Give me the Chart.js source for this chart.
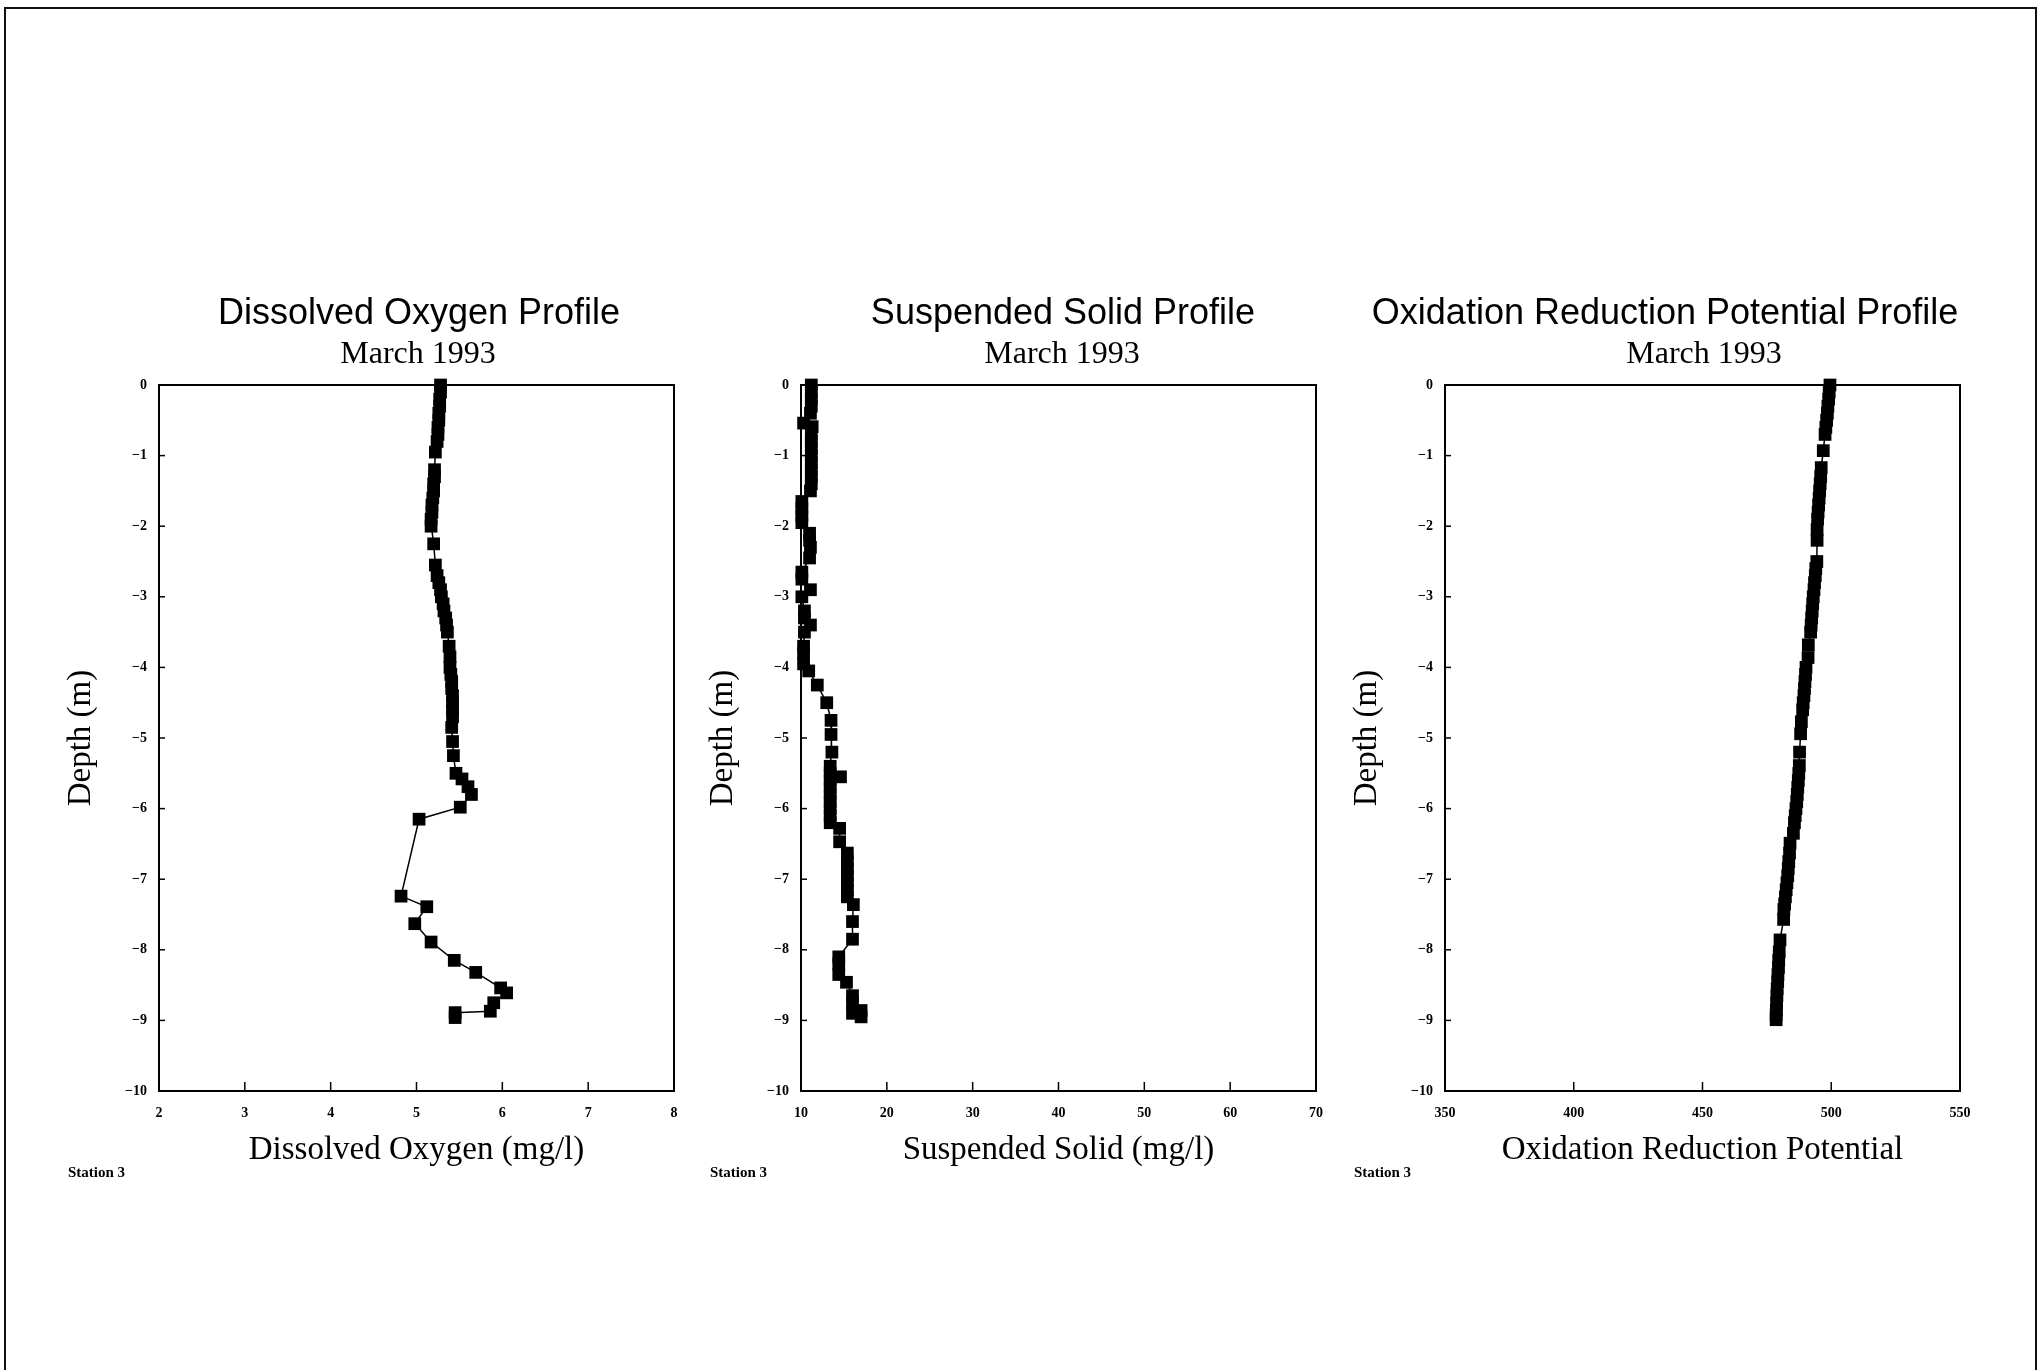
<!DOCTYPE html>
<html>
<head>
<meta charset="utf-8">
<title>Station 3 profiles - March 1993</title>
<script src="https://cdn.jsdelivr.net/npm/chart.js@4.4.1/dist/chart.umd.min.js"></script>
<style>
  html, body { margin: 0; padding: 0; background: #fff; }
  body { width: 2041px; height: 1372px; position: relative; overflow: hidden; }
  .frame { position: absolute; left: 4px; top: 7px; width: 2033px; height: 1363px; border: 2px solid #111; border-bottom: none; box-sizing: border-box; }
  .panel { position: absolute; top: 280px; width: 680px; height: 920px; }
</style>
</head>
<body>
<div class="frame"></div>
<div class="panel" style="left:40px"><canvas id="chartDO"></canvas></div>
<div class="panel" style="left:682px"><canvas id="chartSS"></canvas></div>
<div class="panel" style="left:1326px"><canvas id="chartORP"></canvas></div>

<script>
// depth (m) and readings
const doDepth = [0, -0.1, -0.2, -0.3, -0.4, -0.5, -0.6, -0.7, -0.8, -0.95,
    -1.2, -1.3, -1.4, -1.5, -1.6, -1.7, -1.8, -1.9, -2.0, -2.25,
    -2.55, -2.7, -2.8, -2.9, -3.0, -3.1, -3.2, -3.3, -3.4, -3.5,
    -3.7, -3.85, -4.0, -4.1, -4.2, -4.3, -4.4, -4.5, -4.6, -4.7,
    -4.85, -5.05, -5.25, -5.5, -5.58, -5.69, -5.8, -5.98, -6.15, -7.24,
    -7.39, -7.63, -7.89, -8.15, -8.32, -8.54, -8.61, -8.75, -8.87, -8.89,
    -8.96];
const doValues = [5.28, 5.28, 5.27, 5.27, 5.26, 5.26, 5.25, 5.25, 5.24, 5.22,
    5.21, 5.21, 5.2, 5.2, 5.19, 5.18, 5.18, 5.17, 5.17, 5.2,
    5.22, 5.24, 5.26, 5.28, 5.29, 5.31, 5.32, 5.34, 5.35, 5.36,
    5.38, 5.39, 5.39, 5.4, 5.41, 5.41, 5.42, 5.42, 5.42, 5.42,
    5.41, 5.42, 5.43, 5.46, 5.53, 5.6, 5.64, 5.51, 5.03, 4.82,
    5.12, 4.98, 5.17, 5.44, 5.69, 5.98, 6.05, 5.9, 5.86, 5.45,
    5.45];

const ssDepth = [0, -0.1, -0.2, -0.3, -0.4, -0.54, -0.59, -0.7, -0.8, -0.9,
    -1.0, -1.1, -1.2, -1.3, -1.4, -1.5, -1.65, -1.75, -1.85, -1.95,
    -2.1, -2.2, -2.3, -2.45, -2.65, -2.75, -2.9, -3.0, -3.2, -3.3,
    -3.4, -3.5, -3.7, -3.8, -3.95, -4.05, -4.25, -4.5, -4.75, -4.95,
    -5.2, -5.4, -5.5, -5.55, -5.6, -5.7, -5.8, -5.9, -6.0, -6.1,
    -6.2, -6.28, -6.47, -6.63, -6.75, -6.85, -6.95, -7.05, -7.15, -7.25,
    -7.36, -7.6, -7.85, -8.1, -8.2, -8.35, -8.46, -8.65, -8.75, -8.86,
    -8.9, -8.95];
const ssValues = [11.2, 11.2, 11.2, 11.2, 11.1, 10.3, 11.3, 11.2, 11.2, 11.2,
    11.2, 11.2, 11.2, 11.2, 11.2, 11.1, 10.1, 10.1, 10.1, 10.1,
    11.0, 11.0, 11.1, 11.0, 10.1, 10.1, 11.1, 10.1, 10.4, 10.4,
    11.1, 10.4, 10.3, 10.3, 10.3, 10.9, 11.9, 13.0, 13.5, 13.5,
    13.6, 13.4, 13.4, 14.6, 13.4, 13.4, 13.4, 13.4, 13.4, 13.4,
    13.4, 14.5, 14.5, 15.4, 15.4, 15.4, 15.4, 15.4, 15.4, 15.4,
    16.1, 16.0, 16.0, 14.4, 14.4, 14.4, 15.3, 16.0, 16.0, 17.0,
    16.0, 17.0];

const orpDepth = [0, -0.1, -0.2, -0.3, -0.4, -0.5, -0.6, -0.7, -0.93, -1.17,
    -1.3, -1.4, -1.5, -1.6, -1.7, -1.8, -1.9, -2.05, -2.2, -2.5,
    -2.6, -2.7, -2.8, -2.9, -3.0, -3.1, -3.2, -3.3, -3.4, -3.5,
    -3.68, -3.86, -4.0, -4.1, -4.2, -4.3, -4.4, -4.5, -4.6, -4.77,
    -4.94, -5.2, -5.39, -5.5, -5.6, -5.7, -5.8, -5.9, -6.0, -6.1,
    -6.2, -6.35, -6.49, -6.63, -6.75, -6.85, -6.95, -7.05, -7.15, -7.25,
    -7.35, -7.43, -7.57, -7.86, -8.03, -8.15, -8.25, -8.35, -8.45, -8.55,
    -8.65, -8.75, -8.85, -8.92, -8.99];
const orpValues = [499.5, 499.2, 499.0, 498.7, 498.5, 498.2, 497.9, 497.6, 496.9, 496.1,
    495.9, 495.7, 495.5, 495.3, 495.1, 494.9, 494.7, 494.5, 494.5, 494.4,
    494.0, 493.8, 493.5, 493.3, 493.0, 492.8, 492.6, 492.4, 492.2, 492.0,
    491.1, 491.0, 490.2, 490.0, 489.8, 489.6, 489.4, 489.1, 488.9, 488.4,
    488.1, 487.7, 487.6, 487.4, 487.2, 487.0, 486.8, 486.6, 486.3, 486.0,
    485.7, 485.3, 484.0, 483.8, 483.5, 483.3, 483.1, 482.8, 482.5, 482.2,
    481.9, 481.6, 481.5, 480.1, 479.8, 479.6, 479.5, 479.3, 479.2, 479.0,
    478.9, 478.8, 478.7, 478.6, 478.6];

// axis ranges / tick steps
const depthRange = [-10, 0];
const doRange = [2, 8, 1];
const ssRange = [10, 70, 10];
const orpRange = [350, 550, 50];

const subtitleText = 'March 1993';
const stationText = 'Station 3';

// box, inward tick marks, titles and station note
const profileDecor = {
    id: 'profileDecor',
    afterDraw(chart, args, opts) {
        const { ctx, chartArea: a, scales: { x, y } } = chart;
        ctx.save();
        ctx.strokeStyle = '#000';
        ctx.lineWidth = 2;
        ctx.strokeRect(a.left, a.top, a.right - a.left, a.bottom - a.top);

        ctx.lineWidth = 1.5;
        x.ticks.forEach(t => {
            const px = x.getPixelForValue(t.value);
            ctx.beginPath();
            ctx.moveTo(px, a.bottom);
            ctx.lineTo(px, a.bottom - 9);
            ctx.stroke();
        });
        y.ticks.forEach(t => {
            const py = y.getPixelForValue(t.value);
            ctx.beginPath();
            ctx.moveTo(a.left, py);
            ctx.lineTo(a.left + 6, py);
            ctx.stroke();
        });

        ctx.fillStyle = '#000';
        ctx.textAlign = 'center';
        ctx.textBaseline = 'middle';
        ctx.font = '36px "Liberation Sans", Arial, sans-serif';
        ctx.fillText(opts.title, a.left + opts.titleDx, a.top - 71);
        ctx.font = '32px "Liberation Serif", "Times New Roman", serif';
        ctx.fillText(subtitleText, a.left + opts.subDx, a.top - 30);
        ctx.textAlign = 'left';
        ctx.font = 'bold 15px "Liberation Serif", "Times New Roman", serif';
        ctx.fillText(stationText, a.left - 91, a.bottom + 82);
        ctx.restore();
    }
};

function makeProfile(canvasId, depths, values, range, xLabel, title, titleDx, subDx) {
    const ctx = document.getElementById(canvasId).getContext('2d');
    const tickFont = { family: '"Liberation Serif", "Times New Roman", serif', size: 14, weight: 'bold' };
    const axisFont = { family: '"Liberation Serif", "Times New Roman", serif', size: 33 };

    return new Chart(ctx, {
        type: 'scatter',
        data: {
            datasets: [{
                data: depths.map((d, i) => ({ x: values[i], y: d })),
                showLine: true,
                borderColor: '#000',
                borderWidth: 1.5,
                backgroundColor: '#000',
                pointStyle: 'rect',
                pointRadius: 9,
                pointBorderWidth: 0,
                pointHoverRadius: 9,
                clip: false
            }]
        },
        options: {
            responsive: true,
            maintainAspectRatio: false,
            animation: false,
            events: [],
            layout: { padding: { top: 105, right: 46, left: 0, bottom: 0 } },
            plugins: {
                legend: { display: false },
                tooltip: { enabled: false },
                profileDecor: { title: title, titleDx: titleDx, subDx: subDx }
            },
            scales: {
                x: {
                    type: 'linear',
                    min: range[0],
                    max: range[1],
                    grid: { display: false, drawTicks: false },
                    border: { display: false },
                    ticks: { stepSize: range[2], color: '#000', font: tickFont, padding: 14, maxRotation: 0 },
                    title: { display: true, text: xLabel, color: '#000', font: axisFont, padding: { top: 0, bottom: 30 } },
                    afterFit: scale => { scale.height = 109; }
                },
                y: {
                    type: 'linear',
                    min: depthRange[0],
                    max: depthRange[1],
                    grid: { display: false, drawTicks: false },
                    border: { display: false },
                    ticks: {
                        stepSize: 1,
                        color: '#000',
                        font: tickFont,
                        padding: 12,
                        callback: v => String(v).replace('-', '\u2212')
                    },
                    title: { display: true, text: 'Depth (m)', color: '#000', font: axisFont, padding: { top: 22, bottom: 0 } },
                    afterFit: scale => { scale.width = 119; }
                }
            }
        },
        plugins: [profileDecor]
    });
}

document.addEventListener('DOMContentLoaded', () => {
    makeProfile('chartDO', doDepth, doValues, doRange, 'Dissolved Oxygen (mg/l)', 'Dissolved Oxygen Profile', 260, 259);
    makeProfile('chartSS', ssDepth, ssValues, ssRange, 'Suspended Solid (mg/l)', 'Suspended Solid Profile', 262, 261);
    makeProfile('chartORP', orpDepth, orpValues, orpRange, 'Oxidation Reduction Potential', 'Oxidation Reduction Potential Profile', 220, 259);
});
</script>
</body>
</html>
